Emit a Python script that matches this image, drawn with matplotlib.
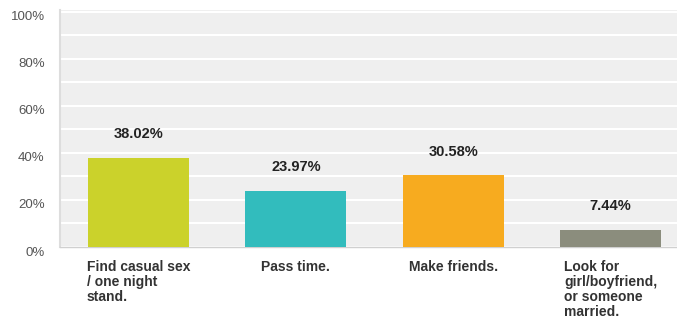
import numpy as np
import matplotlib.pyplot as plt
import matplotlib.transforms as mtransforms

# survey answers and their shares (in %)
categories = ['Find casual sex\n/ one night\nstand.', 'Pass time.', 'Make friends.',
              'Look for\ngirl/boyfriend,\nor someone\nmarried.']
values = [38.02, 23.97, 30.58, 7.44]
value_labels = ['38.02%', '23.97%', '30.58%', '7.44%']
bar_colors = ['#cbd22b', '#32bcbd', '#f7ab1f', '#8b8d7d']
yticks = [0, 20, 40, 60, 80, 100]
ytick_labels = ['0%', '20%', '40%', '60%', '80%', '100%']

plt.rcParams['font.family'] = ['Liberation Sans', 'DejaVu Sans']

fig = plt.figure(figsize=(6.77, 3.24), dpi=100)
ax = fig.add_axes([60/677, 1 - 247/324, 617/677, 237/324])
ax.set_facecolor('#efefef')

X = np.arange(len(values))
ax.bar(X, values, width=0.642, color=bar_colors, zorder=3)

# value labels above bars
for x, v, lab in zip(X, values, value_labels):
    ax.text(x, v + 7.0, lab, ha='center', va='bottom', fontsize=10.5,
            fontweight='bold', color='#222222', zorder=4)

# category labels under bars, block centred, lines left aligned
for x, lab in zip(X, categories):
    ax.text(x, -5.6, lab, ha='center', va='top', multialignment='left',
            fontsize=10, fontweight='bold', color='#333333', linespacing=1.08)

ax.set_xlim(-0.5, 3.423)
ax.set_ylim(0, 100.8)
ax.set_xticks([])
ax.set_yticks(yticks)
ax.set_yticklabels(ytick_labels, fontsize=9.5, color='#555555')
ax.set_yticks(np.arange(10, 100, 20), minor=True)
ax.tick_params(axis='y', which='both', length=0, pad=11)
ax.grid(axis='y', which='both', color='white', linewidth=1.5, zorder=1)

# nudge tick labels a bit downward
offset = mtransforms.ScaledTranslation(0, -4/100, fig.dpi_scale_trans)
for lbl in ax.get_yticklabels():
    lbl.set_transform(lbl.get_transform() + offset)

for side in ['top', 'right']:
    ax.spines[side].set_visible(False)
ax.spines['left'].set_color('#dddddd')
ax.spines['left'].set_linewidth(1.5)
ax.spines['bottom'].set_color('#d0d0d0')
ax.spines['bottom'].set_linewidth(1)

plt.savefig('out.png', dpi=100)
